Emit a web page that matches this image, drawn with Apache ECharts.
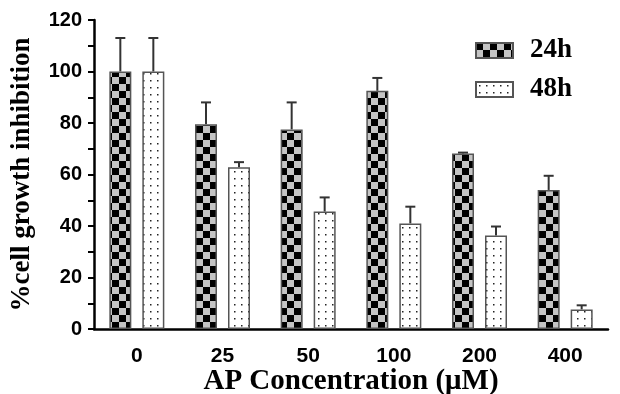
<!DOCTYPE html>
<html>
<head>
<meta charset="utf-8">
<script src="https://cdn.jsdelivr.net/npm/echarts@6/dist/echarts.min.js"></script>
<style>html,body{margin:0;padding:0;background:#fff}#main{width:620px;height:394px}</style>
</head>
<body>
<div id="main"></div>
<script>
// data
var concentrations = ['0', '25', '50', '100', '200', '400'];
var mean24h = [100, 79.5, 77.5, 92.5, 68.2, 54];
var err24h = [13, 8.5, 10.5, 5, 0.3, 5.5];
var mean48h = [100, 62.8, 45.6, 41, 36.3, 7.6];
var err48h = [13, 2, 5.5, 6.5, 3.5, 1.6];
var yMin = 0, yMax = 120, yStep = 10;

// fill patterns
function checker() {
    var c = document.createElement('canvas');
    c.width = 14; c.height = 14;
    var g = c.getContext('2d');
    g.fillStyle = '#c4c4c4'; g.fillRect(0, 0, 14, 14);
    g.fillStyle = '#000';
    g.fillRect(0, 0, 7, 7); g.fillRect(7, 7, 7, 7);
    return c;
}
function dots() {
    var c = document.createElement('canvas');
    c.width = 7; c.height = 7;
    var g = c.getContext('2d');
    g.fillStyle = '#fff'; g.fillRect(0, 0, 7, 7);
    g.fillStyle = '#222'; g.fillRect(3, 3, 1.5, 1.5);
    return c;
}

var barW = 22, gapRatio = 0.5;
var shift = (barW + barW * gapRatio) / 2;

function errorSeries(means, errs, offset) {
    return {
        type: 'custom',
        data: means.map(function (m, i) { return [i, m, m + errs[i]]; }),
        renderItem: function (params, api) {
            var b = api.coord([api.value(0), api.value(1)]);
            var t = api.coord([api.value(0), api.value(2)]);
            var x = b[0] + offset;
            var st = { stroke: '#333', lineWidth: 2 };
            return {
                type: 'group',
                children: [
                    { type: 'line', shape: { x1: x, y1: b[1], x2: x, y2: t[1] }, style: st },
                    { type: 'line', shape: { x1: x - 5, y1: t[1], x2: x + 5, y2: t[1] }, style: st }
                ]
            };
        },
        z: 1,
        silent: true
    };
}

var chart = echarts.init(document.getElementById('main'));
chart.setOption({
    animation: false,
    backgroundColor: '#fff',
    grid: { left: 94, right: 12, top: 20, bottom: 65, outerBoundsMode: 'none' },
    legend: {
        data: ['24h', '48h'],
        orient: 'vertical',
        left: 470,
        top: 32,
        itemWidth: 37,
        itemHeight: 15,
        itemGap: 12,
        icon: 'rect',
        textStyle: {
            fontFamily: 'Liberation Serif', fontWeight: 'bold', fontSize: 27,
            color: '#000', padding: [0, 0, 0, 12]
        }
    },
    xAxis: {
        type: 'category',
        data: concentrations,
        name: 'AP Concentration (\u03bcM)',
        nameLocation: 'middle',
        nameMoveOverlap: false,
        nameGap: 38,
        nameTextStyle: { fontFamily: 'Liberation Serif', fontWeight: 'bold', fontSize: 29, color: '#000' },
        axisLine: { lineStyle: { color: '#000', width: 2.5 } },
        axisTick: { alignWithLabel: true, length: 7, lineStyle: { color: '#000', width: 2.5 } },
        axisLabel: { fontFamily: 'Liberation Sans', fontWeight: 'bold', fontSize: 21, color: '#000', margin: 17 }
    },
    yAxis: {
        type: 'value',
        min: yMin, max: yMax, interval: yStep,
        name: '%cell growth inhibition',
        nameLocation: 'middle',
        nameMoveOverlap: false,
        nameGap: 58,
        nameTextStyle: { fontFamily: 'Liberation Serif', fontWeight: 'bold', fontSize: 27, color: '#000' },
        axisLine: { show: true, lineStyle: { color: '#000', width: 2.5 } },
        axisTick: { show: true, length: 6, lineStyle: { color: '#000', width: 2 } },
        splitLine: { show: false },
        axisLabel: {
            fontFamily: 'Liberation Sans', fontWeight: 'bold', fontSize: 20, color: '#000', margin: 12,
            formatter: function (v) { return v % 20 === 0 ? v : ''; }
        }
    },
    series: [
        {
            name: '24h', type: 'bar', data: mean24h, barWidth: barW, barGap: '50%',
            itemStyle: { color: { image: checker(), repeat: 'repeat' }, borderColor: '#555', borderWidth: 1.5 },
            z: 2
        },
        {
            name: '48h', type: 'bar', data: mean48h, barWidth: barW,
            itemStyle: { color: { image: dots(), repeat: 'repeat' }, borderColor: '#555', borderWidth: 1.5 },
            z: 2
        },
        errorSeries(mean24h, err24h, -shift),
        errorSeries(mean48h, err48h, shift)
    ]
});
</script>
</body>
</html>
